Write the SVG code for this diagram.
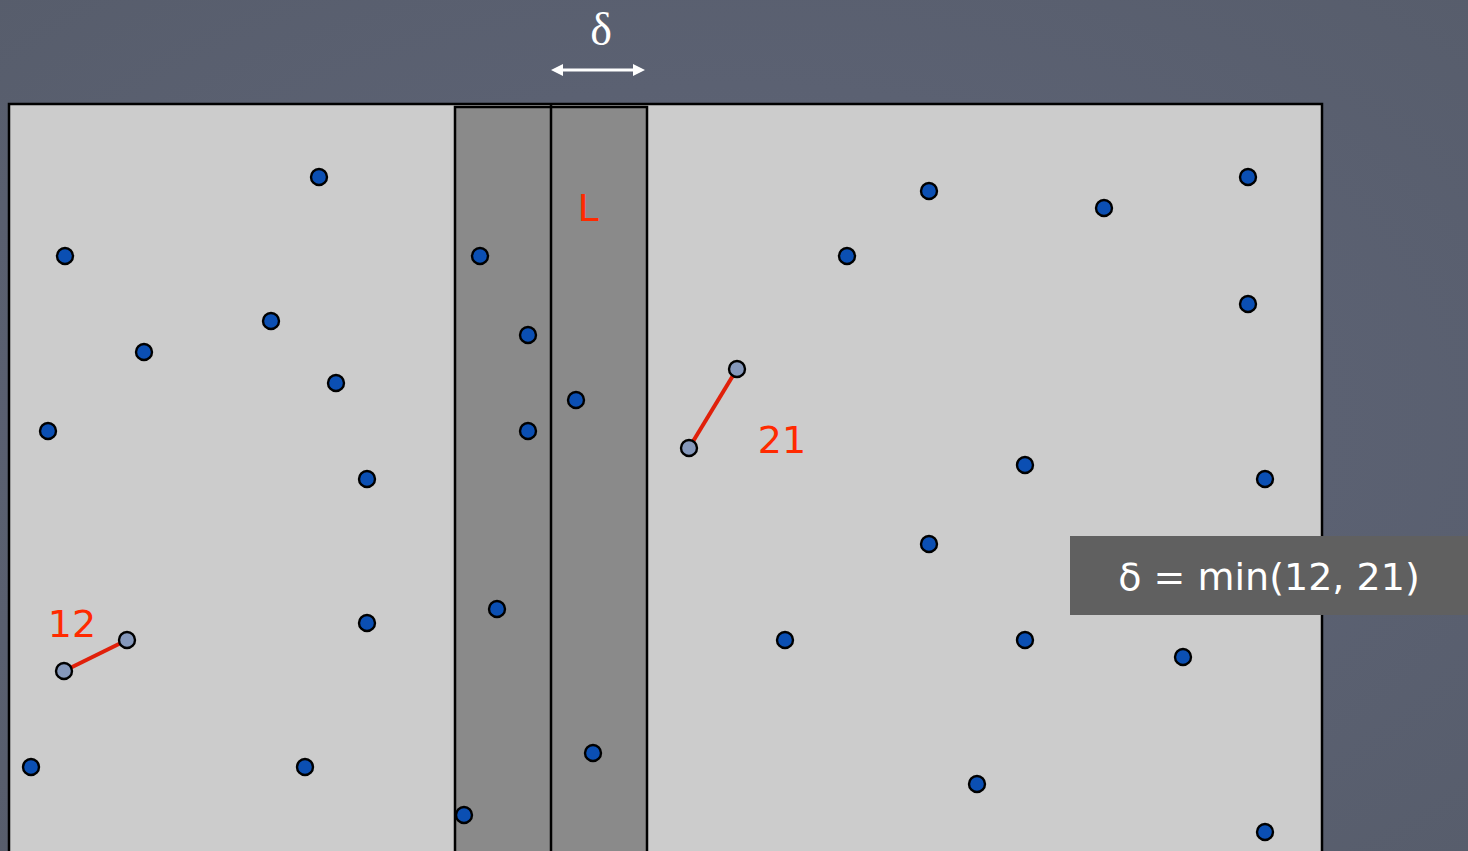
<svg xmlns="http://www.w3.org/2000/svg" width="1468" height="851" viewBox="0 0 1468 851">
<defs>
<style>
.dot{fill:#0b4fb3;stroke:#000;stroke-width:2.4}
.gdot{fill:#8598bb;stroke:#000;stroke-width:2.4}
.red{fill:#ff2a00;font-family:"DejaVu Sans",sans-serif;font-size:38px}
.pair{stroke:#e0200a;stroke-width:4}
</style>
<radialGradient id="bg" cx="0.5" cy="0.5" r="0.8">
<stop offset="0" stop-color="#60667a"/>
<stop offset="1" stop-color="#565c6a"/>
</radialGradient>
</defs>
<rect width="1468" height="851" fill="url(#bg)"/>
<g id="plane">
<rect x="9" y="104" width="1313" height="760" fill="#cccccc" stroke="#000" stroke-width="2.5"/>
</g>
<g id="strip">
<rect x="455" y="107" width="192" height="760" fill="#8a8a8a" stroke="#000" stroke-width="2.5"/>
<line x1="551" y1="103" x2="551" y2="851" stroke="#000" stroke-width="2.5"/>
</g>
<g id="delta-marker">
<text x="601" y="45" fill="#fff" font-family="'Liberation Serif',serif" font-size="46" text-anchor="middle">δ</text>
<line x1="560" y1="70" x2="637" y2="70" stroke="#fff" stroke-width="3"/>
<polygon points="551,70 563,64 563,76" fill="#fff"/>
<polygon points="645,70 633,64 633,76" fill="#fff"/>
</g>
<text id="label-L" class="red" x="588" y="221" text-anchor="middle">L</text>
<g id="connectors">
<line class="pair" x1="64" y1="671" x2="127" y2="640"/>
<line class="pair" x1="689" y1="448" x2="737" y2="369"/>
</g>
<g id="points">
<circle class="dot" cx="319" cy="177" r="8"/>
<circle class="dot" cx="65" cy="256" r="8"/>
<circle class="dot" cx="271" cy="321" r="8"/>
<circle class="dot" cx="144" cy="352" r="8"/>
<circle class="dot" cx="336" cy="383" r="8"/>
<circle class="dot" cx="48" cy="431" r="8"/>
<circle class="dot" cx="367" cy="479" r="8"/>
<circle class="dot" cx="367" cy="623" r="8"/>
<circle class="dot" cx="31" cy="767" r="8"/>
<circle class="dot" cx="305" cy="767" r="8"/>
<circle class="dot" cx="480" cy="256" r="8"/>
<circle class="dot" cx="528" cy="335" r="8"/>
<circle class="dot" cx="576" cy="400" r="8"/>
<circle class="dot" cx="528" cy="431" r="8"/>
<circle class="dot" cx="497" cy="609" r="8"/>
<circle class="dot" cx="593" cy="753" r="8"/>
<circle class="dot" cx="464" cy="815" r="8"/>
<circle class="dot" cx="929" cy="191" r="8"/>
<circle class="dot" cx="1104" cy="208" r="8"/>
<circle class="dot" cx="1248" cy="177" r="8"/>
<circle class="dot" cx="847" cy="256" r="8"/>
<circle class="dot" cx="1248" cy="304" r="8"/>
<circle class="dot" cx="1025" cy="465" r="8"/>
<circle class="dot" cx="1265" cy="479" r="8"/>
<circle class="dot" cx="929" cy="544" r="8"/>
<circle class="dot" cx="785" cy="640" r="8"/>
<circle class="dot" cx="1025" cy="640" r="8"/>
<circle class="dot" cx="1183" cy="657" r="8"/>
<circle class="dot" cx="977" cy="784" r="8"/>
<circle class="dot" cx="1265" cy="832" r="8"/>
<circle class="gdot" cx="64" cy="671" r="8"/>
<circle class="gdot" cx="127" cy="640" r="8"/>
<circle class="gdot" cx="689" cy="448" r="8"/>
<circle class="gdot" cx="737" cy="369" r="8"/>
</g>
<text id="label-12" class="red" x="72" y="637" text-anchor="middle">12</text>
<text id="label-21" class="red" x="782" y="453" text-anchor="middle">21</text>
<g id="formula">
<rect x="1070" y="536" width="398" height="79" fill="#606060"/>
<text x="1269" y="590" fill="#fff" font-family="'DejaVu Sans',sans-serif" font-size="38" text-anchor="middle">δ = min(12, 21)</text>
</g>
</svg>
